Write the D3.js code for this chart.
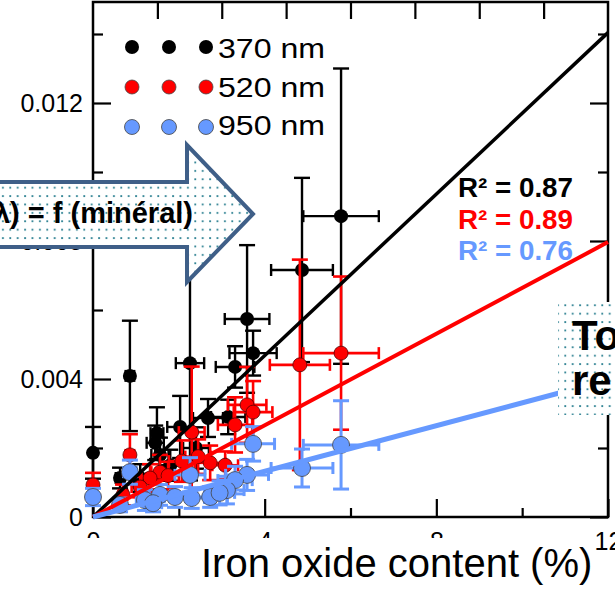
<!DOCTYPE html>
<html>
<head>
<meta charset="utf-8">
<script src="https://cdn.jsdelivr.net/npm/d3@7"></script>
<style>
  body { margin: 0; background: #fff; }
  svg { display: block; font-family: "Liberation Sans", Arial, sans-serif; }
</style>
</head>
<body>
<svg width="615" height="592"></svg>
<script>
// Iron oxide content (%) vs absorption, three wavelengths, fit through origin

let width = 615;
let height = 592;

let seriesNames = ['370 nm', '520 nm', '950 nm'];
let seriesColors = ['#000000', '#ff0000', '#6699ff'];
let fitSlopes = [0.00117, 0.000664, 0.000331];
let r2Labels = ['R² = 0.87', 'R² = 0.89', 'R² = 0.76'];

// 370 nm
let pct370 = [0.00, 0.86, 2.26, 3.59, 3.73, 3.31, 4.87, 5.78, 1.49, 1.45, 2.03, 2.68, 3.15, 0.63, 1.10, 1.56, 1.80, 2.40];
let abs370 = [0.00186, 0.00409, 0.00446, 0.00574, 0.00475, 0.00435, 0.00716, 0.00872, 0.00243, 0.00215, 0.00261, 0.00287, 0.00290, 0.00113, 0.00113, 0.00180, 0.00150, 0.00200];
let xErr370 = [0.05, 0.10, 0.33, 0.52, 0.55, 0.45, 0.72, 0.88, 0.15, 0.20, 0.30, 0.35, 0.40, 0.10, 0.15, 0.20, 0.25, 0.30];
let yErr370 = [0.00075, 0.00160, 0.00340, 0.00214, 0.00065, 0.00060, 0.00267, 0.00428, 0.00075, 0.00050, 0.00090, 0.00055, 0.00050, 0.00030, 0.00040, 0.00050, 0.00045, 0.00060];

// 520 nm
let pct520 = [0.00, 0.86, 2.30, 2.07, 1.56, 1.33, 0.70, 3.31, 3.59, 3.73, 4.82, 5.78, 2.73, 3.08, 1.10, 1.75, 2.45];
let abs520 = [0.00093, 0.00180, 0.00246, 0.00162, 0.00130, 0.00113, 0.00064, 0.00267, 0.00325, 0.00304, 0.00441, 0.00475, 0.00157, 0.00150, 0.00087, 0.00120, 0.00175];
let xErr520 = [0.05, 0.10, 0.30, 0.30, 0.20, 0.20, 0.10, 0.40, 0.45, 0.45, 0.70, 0.88, 0.35, 0.30, 0.20, 0.25, 0.30];
let yErr520 = [0.00035, 0.00060, 0.00190, 0.00060, 0.00050, 0.00040, 0.00030, 0.00080, 0.00110, 0.00090, 0.00305, 0.00222, 0.00050, 0.00040, 0.00030, 0.00040, 0.00050];

// 950 nm
let pct950 = [0.00, 0.86, 2.26, 3.73, 3.59, 3.31, 3.12, 2.73, 4.87, 5.78, 1.56, 1.91, 1.21, 0.63, 2.30, 2.95, 1.40];
let abs950 = [0.00058, 0.00130, 0.00122, 0.00212, 0.00122, 0.00107, 0.00078, 0.00058, 0.00142, 0.00209, 0.00064, 0.00058, 0.00049, 0.00035, 0.00055, 0.00070, 0.00040];
let xErr950 = [0.10, 0.15, 0.35, 0.50, 0.50, 0.40, 0.40, 0.40, 0.72, 0.88, 0.25, 0.25, 0.20, 0.10, 0.30, 0.35, 0.20];
let yErr950 = [0.00025, 0.00035, 0.00050, 0.00050, 0.00045, 0.00040, 0.00040, 0.00030, 0.00055, 0.00128, 0.00030, 0.00030, 0.00030, 0.00020, 0.00030, 0.00035, 0.00025];

let xMajor = [0, 4, 8, 12];
let xMinor = [2, 6, 10];
let yMajor = [0, 0.004, 0.008, 0.012];
let yMinor = [0.002, 0.006, 0.010, 0.014];
let yLabels = ['0', '0.004', '0.008', '0.012'];
let xLabels = ['0', '4', '8', '12'];

let series = [
  { x: pct370, y: abs370, xe: xErr370, ye: yErr370, r: 7, stroke: 'none', sw: 2.4 },
  { x: pct520, y: abs520, xe: xErr520, ye: yErr520, r: 7, stroke: '#500', sw: 2.6 },
  { x: pct950, y: abs950, xe: xErr950, ye: yErr950, r: 8.5, stroke: '#444', sw: 3 }
];

let plotLeft = 93, plotRight = 608, plotTop = 2, plotBottom = 517;

let xScale = d3.scaleLinear().domain([0, 12]).range([plotLeft, plotRight]);
let yScale = d3.scaleLinear().domain([0, 0.015]).range([plotBottom, -0.5]);
let xTopScale = d3.scaleLinear().domain([0, 8]).range([plotLeft, plotRight]);

let svg = d3.select('svg');

let defs = svg.append('defs');
let pat = defs.append('pattern')
  .attr('id', 'dots')
  .attr('patternUnits', 'userSpaceOnUse')
  .attr('width', 7.4)
  .attr('height', 8.4);
pat.append('rect').attr('width', 7.4).attr('height', 8.4).attr('fill', '#fff');
pat.append('rect').attr('x', 2).attr('y', 2).attr('width', 1.8).attr('height', 1.8).attr('fill', '#2a7f90');

// axes
function drawAxis(axis, tx, ty) {
  let g = svg.append('g')
    .attr('transform', 'translate(' + tx + ',' + ty + ')')
    .call(axis);
  g.select('.domain').remove();
  g.selectAll('line').attr('stroke', '#000').attr('stroke-width', 2.2);
  g.selectAll('text').attr('fill', '#000').style('font-size', '25px');
  return g;
}

drawAxis(d3.axisLeft(yScale).tickValues(yMajor).tickSize(-18).tickPadding(10)
  .tickFormat((d, i) => yLabels[i]), plotLeft, 0);
drawAxis(d3.axisLeft(yScale).tickValues(yMinor).tickSize(-10).tickFormat(''), plotLeft, 0);
drawAxis(d3.axisRight(yScale).tickValues(yMajor).tickSize(-18).tickFormat(''), plotRight, 0);
drawAxis(d3.axisRight(yScale).tickValues(yMinor).tickSize(-10).tickFormat(''), plotRight, 0);
drawAxis(d3.axisBottom(xScale).tickValues(xMajor).tickSize(-18).tickPadding(15)
  .tickFormat((d, i) => xLabels[i]), 0, plotBottom);
drawAxis(d3.axisBottom(xScale).tickValues(xMinor).tickSize(-9).tickFormat(''), 0, plotBottom);
drawAxis(d3.axisTop(xTopScale).tickValues(d3.range(1, 8)).tickSize(-17).tickFormat(''), 0, plotTop);

svg.append('rect')
  .attr('x', plotLeft).attr('y', plotTop)
  .attr('width', plotRight - plotLeft).attr('height', plotBottom - plotTop)
  .attr('fill', 'none').attr('stroke', '#000').attr('stroke-width', 2.5);

// error bars and points
series.forEach((s, k) => {
  let color = seriesColors[k];
  let g = svg.append('g');
  let idx = d3.range(s.x.length);
  let bars = g.selectAll('g.bar').data(idx).enter().append('g')
    .attr('stroke', color).attr('stroke-width', s.sw).attr('fill', 'none');
  // horizontal
  bars.append('line')
    .attr('x1', i => xScale(s.x[i] - s.xe[i])).attr('x2', i => xScale(s.x[i] + s.xe[i]))
    .attr('y1', i => yScale(s.y[i])).attr('y2', i => yScale(s.y[i]));
  bars.append('line')
    .attr('x1', i => xScale(s.x[i] - s.xe[i])).attr('x2', i => xScale(s.x[i] - s.xe[i]))
    .attr('y1', i => yScale(s.y[i]) - 6).attr('y2', i => yScale(s.y[i]) + 6);
  bars.append('line')
    .attr('x1', i => xScale(s.x[i] + s.xe[i])).attr('x2', i => xScale(s.x[i] + s.xe[i]))
    .attr('y1', i => yScale(s.y[i]) - 6).attr('y2', i => yScale(s.y[i]) + 6);
  // vertical
  bars.append('line')
    .attr('x1', i => xScale(s.x[i])).attr('x2', i => xScale(s.x[i]))
    .attr('y1', i => yScale(s.y[i] - s.ye[i])).attr('y2', i => yScale(s.y[i] + s.ye[i]));
  bars.append('line')
    .attr('x1', i => xScale(s.x[i]) - 8).attr('x2', i => xScale(s.x[i]) + 8)
    .attr('y1', i => yScale(s.y[i] + s.ye[i])).attr('y2', i => yScale(s.y[i] + s.ye[i]));
  bars.append('line')
    .attr('x1', i => xScale(s.x[i]) - 8).attr('x2', i => xScale(s.x[i]) + 8)
    .attr('y1', i => yScale(s.y[i] - s.ye[i])).attr('y2', i => yScale(s.y[i] - s.ye[i]));

  g.selectAll('circle').data(idx).enter().append('circle')
    .attr('cx', i => xScale(s.x[i]))
    .attr('cy', i => yScale(s.y[i]))
    .attr('r', s.r)
    .attr('fill', color)
    .attr('stroke', s.stroke)
    .attr('stroke-width', 0.8);
});

// fitted lines through origin
let lineWidths = [3.5, 4, 5];
fitSlopes.forEach((m, k) => {
  svg.append('line')
    .attr('x1', xScale(0)).attr('y1', yScale(0))
    .attr('x2', xScale(12)).attr('y2', yScale(m * 12))
    .attr('stroke', seriesColors[k])
    .attr('stroke-width', lineWidths[k]);
});

// R² labels
r2Labels.forEach((t, k) => {
  svg.append('text')
    .attr('x', 458)
    .attr('y', 197 + k * 31.5)
    .attr('textLength', 115)
    .attr('lengthAdjust', 'spacingAndGlyphs')
    .style('font-size', '27px')
    .style('font-weight', 'bold')
    .attr('fill', seriesColors[k])
    .text(t);
});

// legend
let legendX = [132, 169, 206];
seriesNames.forEach((name, k) => {
  let cy = 47 + k * 40;
  legendX.forEach(cx => {
    svg.append('circle')
      .attr('cx', cx).attr('cy', cy).attr('r', k === 2 ? 7.5 : 7)
      .attr('fill', seriesColors[k])
      .attr('stroke', k === 0 ? 'none' : '#444')
      .attr('stroke-width', 0.8);
  });
  svg.append('text')
    .attr('x', 218)
    .attr('y', 58 + k * 38.5)
    .attr('textLength', 107)
    .attr('lengthAdjust', 'spacingAndGlyphs')
    .style('font-size', '28px')
    .text(name);
});

// x-axis title with white box behind
svg.append('rect')
  .attr('x', 60).attr('y', 538)
  .attr('width', 530).attr('height', 54)
  .attr('fill', '#fff');
svg.append('text')
  .attr('x', 201)
  .attr('y', 577)
  .style('font-size', '40px')
  .text('Iron oxide content (%)');

// big arrow
let arrow = [[-20, 182], [187, 182], [187, 145], [253, 214], [187, 282], [187, 247], [-20, 247]];
svg.append('path')
  .attr('d', d3.line()(arrow) + 'Z')
  .attr('fill', 'url(#dots)')
  .attr('stroke', '#3f5f88')
  .attr('stroke-width', 4)
  .attr('stroke-linejoin', 'miter');
svg.append('text')
  .attr('x', 193)
  .attr('y', 223)
  .attr('text-anchor', 'end')
  .style('font-size', '29px')
  .style('font-weight', 'bold')
  .text('(λ) = f (minéral)');

// right dotted box
svg.append('rect')
  .attr('x', 558).attr('y', 302)
  .attr('width', 70).attr('height', 113)
  .attr('fill', 'url(#dots)');
svg.append('text')
  .attr('x', 572).attr('y', 350)
  .style('font-size', '42px').style('font-weight', 'bold')
  .text('To');
svg.append('text')
  .attr('x', 572).attr('y', 395)
  .style('font-size', '42px').style('font-weight', 'bold')
  .text('re');
</script>
</body>
</html>
